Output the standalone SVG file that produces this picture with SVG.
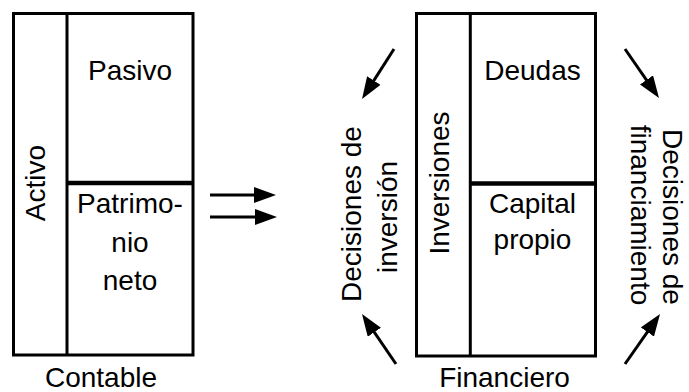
<svg xmlns="http://www.w3.org/2000/svg" width="689" height="392" viewBox="0 0 689 392">
  <style>
    .frame { fill: none; stroke: #000; stroke-width: 3; }
    .split { stroke: #000; stroke-width: 3; }
    .split-h { stroke: #000; stroke-width: 4.5; }
    .label { font-family: "Liberation Sans", Arial, sans-serif; font-size: 28px; fill: #000; text-anchor: middle; }
    .arrow { stroke: #000; stroke-width: 3; fill: none; marker-end: url(#head); }
  </style>
  <defs>
    <marker id="head" viewBox="0 0 22 16" refX="12" refY="8" markerWidth="22" markerHeight="16" markerUnits="userSpaceOnUse" orient="auto">
      <path d="M0,0 L22,8 L0,16 z" fill="#000"/>
    </marker>
  </defs>
  <rect width="689" height="392" fill="#fff"/>

  <!-- Accounting balance sheet -->
  <g id="contable">
    <rect class="frame" x="13.5" y="13.5" width="179.5" height="341.5"/>
    <line class="split" x1="67" y1="13.5" x2="67" y2="355"/>
    <line class="split-h" x1="67" y1="183" x2="193" y2="183"/>
    <text class="label" transform="translate(45,183) rotate(-90)">Activo</text>
    <text class="label" x="130" y="80">Pasivo</text>
    <text class="label" x="130" y="213">Patrimo-</text>
    <text class="label" x="130" y="252">nio</text>
    <text class="label" x="130" y="290">neto</text>
    <text class="label" x="101" y="387">Contable</text>
  </g>

  <!-- Financial balance sheet -->
  <g id="financiero">
    <rect class="frame" x="416.5" y="13.5" width="179" height="342.5"/>
    <line class="split" x1="470.3" y1="13.5" x2="470.3" y2="356"/>
    <line class="split-h" x1="470.3" y1="183.5" x2="595.5" y2="183.5"/>
    <text class="label" transform="translate(449,183) rotate(-90)">Inversiones</text>
    <text class="label" x="532.5" y="80">Deudas</text>
    <text class="label" x="532.5" y="213">Capital</text>
    <text class="label" x="532.5" y="249">propio</text>
    <text class="label" x="504.5" y="387">Financiero</text>
  </g>

  <g id="decisiones-inversion">
    <text class="label" transform="translate(361,214) rotate(-90)">Decisiones de</text>
    <text class="label" transform="translate(397,217) rotate(-90)">inversión</text>
  </g>

  <g id="decisiones-financiamiento">
    <text class="label" transform="translate(663,217) rotate(90)">Decisiones de</text>
    <text class="label" transform="translate(631,215) rotate(90)">financiamiento</text>
  </g>

  <!-- Connectors -->
  <g id="connectors">
    <line class="arrow" x1="210" y1="195" x2="266" y2="195"/>
    <line class="arrow" x1="210" y1="217" x2="267" y2="217"/>
    <line class="arrow" x1="394" y1="49" x2="367.4" y2="90.6"/>
    <line class="arrow" x1="396" y1="364" x2="367.6" y2="322.3"/>
    <line class="arrow" x1="625" y1="49" x2="653.3" y2="89.8"/>
    <line class="arrow" x1="625" y1="364" x2="654.3" y2="322.2"/>
  </g>
</svg>
